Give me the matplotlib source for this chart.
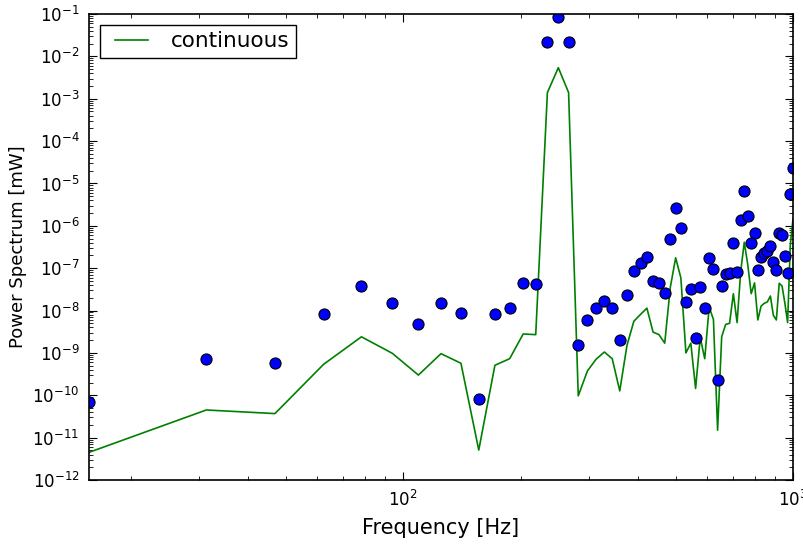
import matplotlib
matplotlib.use('Agg')
import matplotlib.pyplot as plt
from matplotlib.ticker import NullFormatter, LogLocator
from matplotlib.legend_handler import HandlerLine2D

# frequency grid [Hz]
freq = [15.625, 31.25, 46.875, 62.5, 78.125, 93.75, 109.375, 125.0,
        140.625, 156.25, 171.875, 187.5, 203.125, 218.75, 234.375, 250.0,
        265.625, 281.25, 296.875, 312.5, 328.125, 343.75, 359.375, 375.0,
        390.625, 406.25, 421.875, 437.5, 453.125, 468.75, 484.375, 500.0,
        515.625, 531.25, 546.875, 562.5, 578.125, 593.75, 609.375, 625.0,
        640.625, 656.25, 671.875, 687.5, 703.125, 718.75, 734.375, 750.0,
        765.625, 781.25, 796.875, 812.5, 828.125, 843.75, 859.375, 875.0,
        890.625, 906.25, 921.875, 937.5, 953.125, 968.75, 984.375, 1000.0]

# discrete spectrum (dots) [mW]
discrete = [6.8e-11, 7.1e-10, 5.7e-10, 8.1e-9, 3.8e-8, 1.5e-8, 4.7e-9, 1.5e-8,
            8.9e-9, 8.1e-11, 8.1e-9, 1.17e-8, 4.5e-8, 4.3e-8, 2.2e-2, 8.6e-2,
            2.2e-2, 1.5e-9, 5.9e-9, 1.14e-8, 1.64e-8, 1.17e-8, 2.0e-9, 2.3e-8,
            8.5e-8, 1.3e-7, 1.8e-7, 4.9e-8, 4.4e-8, 2.6e-8, 4.9e-7, 2.7e-6,
            8.7e-7, 1.6e-8, 3.3e-8, 2.2e-9, 3.6e-8, 1.17e-8, 1.76e-7, 9.5e-8,
            2.3e-10, 3.7e-8, 7.2e-8, 7.5e-8, 4.0e-7, 8.1e-8, 1.4e-6, 6.5e-6,
            1.75e-6, 4.0e-7, 6.8e-7, 9.0e-8, 1.86e-7, 2.3e-7, 2.5e-7, 3.4e-7,
            1.4e-7, 9.3e-8, 6.8e-7, 6.2e-7, 1.9e-7, 7.8e-8, 5.75e-6, 2.3e-5]

# continuous spectrum (line) [mW]
continuous = [4.5e-12, 4.5e-11, 3.7e-11, 5.4e-10, 2.4e-9, 9.8e-10, 3.0e-10, 9.6e-10,
              5.7e-10, 5.1e-12, 5.1e-10, 7.3e-10, 2.8e-9, 2.7e-9, 1.4e-3, 5.4e-3,
              1.4e-3, 9.7e-11, 3.75e-10, 7.1e-10, 1.05e-9, 7.3e-10, 1.27e-10, 1.5e-9,
              5.6e-9, 8.1e-9, 1.14e-8, 3.1e-9, 2.7e-9, 1.7e-9, 3.5e-8, 1.76e-7,
              5.9e-8, 1.0e-9, 1.7e-9, 1.45e-10, 2.3e-9, 7.3e-10, 1.2e-8, 6.2e-9,
              1.5e-11, 2.4e-9, 4.7e-9, 5.0e-9, 2.5e-8, 5.2e-9, 8.5e-8, 4.1e-7,
              1.2e-7, 2.5e-8, 4.5e-8, 6.0e-9, 1.27e-8, 1.48e-8, 1.6e-8, 2.2e-8,
              7.7e-9, 6.0e-9, 4.4e-8, 3.8e-8, 1.5e-8, 5.2e-9, 3.6e-7, 1.44e-6]

plt.rcParams['xtick.direction'] = 'in'
plt.rcParams['ytick.direction'] = 'in'
plt.rcParams['xtick.top'] = True
plt.rcParams['ytick.right'] = True
plt.rcParams['xtick.major.size'] = 6
plt.rcParams['ytick.major.size'] = 6
plt.rcParams['xtick.minor.size'] = 3
plt.rcParams['ytick.minor.size'] = 3

fig = plt.figure(figsize=(8.04, 5.44), dpi=100)
ax = fig.add_axes([0.1107, 0.1176, 0.8756, 0.8567])

ax.plot(freq, continuous, color=(0, 0.5, 0), lw=1.2, label='continuous')
ax.plot(freq, discrete, 'o', color='blue', mec='black', mew=0.8, ms=8)

ax.set_xscale('log')
ax.set_yscale('log')
ax.set_xlim(15.625, 1000)
ax.set_ylim(1e-12, 1e-1)
ax.yaxis.set_major_locator(LogLocator(base=10, numticks=20))
ax.yaxis.set_minor_locator(LogLocator(base=10, subs=range(2, 10), numticks=20))
ax.xaxis.set_minor_formatter(NullFormatter())
ax.yaxis.set_minor_formatter(NullFormatter())

ax.tick_params(labelsize=12, pad=7)
for s in ax.spines.values():
    s.set_linewidth(1.2)

ax.set_xlabel('Frequency [Hz]', fontsize=15, labelpad=6)
ax.set_ylabel('Power Spectrum [mW]', fontsize=13)

leg = ax.legend(loc='upper left', fontsize=15.5, fancybox=False, framealpha=1,
                numpoints=2, handlelength=2.33, handletextpad=0.67,
                borderpad=0.3, borderaxespad=0.5,
                handler_map={matplotlib.lines.Line2D: HandlerLine2D(marker_pad=0.4, numpoints=2)})
leg.get_frame().set_edgecolor('black')
leg.get_frame().set_linewidth(1.0)

fig.savefig('out.png', dpi=100)
